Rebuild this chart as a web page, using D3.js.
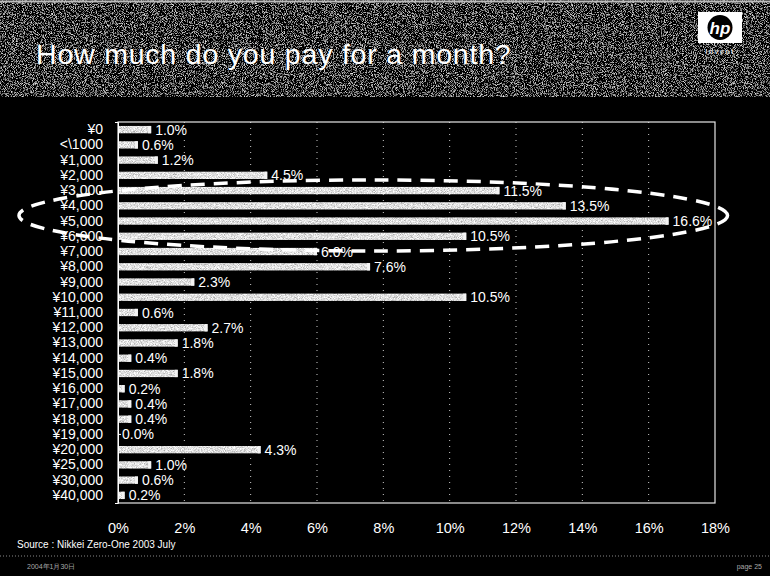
<!DOCTYPE html>
<html>
<head>
<meta charset="utf-8">
<script src="https://cdn.jsdelivr.net/npm/d3@7"></script>
<style>
  html, body { margin: 0; padding: 0; background: #000; }
  svg { display: block; }
  text { font-family: "Liberation Sans", Arial, sans-serif; }
</style>
</head>
<body>
<svg id="chart" width="770" height="576"></svg>
<script>
// Monthly spending buckets and share of respondents (%)
const categories = ["¥0", "<\\1000", "¥1,000", "¥2,000", "¥3,000", "¥4,000", "¥5,000",
  "¥6,000", "¥7,000", "¥8,000", "¥9,000", "¥10,000", "¥11,000", "¥12,000", "¥13,000",
  "¥14,000", "¥15,000", "¥16,000", "¥17,000", "¥18,000", "¥19,000", "¥20,000",
  "¥25,000", "¥30,000", "¥40,000"];
const shares = [1.0, 0.6, 1.2, 4.5, 11.5, 13.5, 16.6, 10.5, 6.0, 7.6, 2.3, 10.5, 0.6,
  2.7, 1.8, 0.4, 1.8, 0.2, 0.4, 0.4, 0.0, 4.3, 1.0, 0.6, 0.2];
const xTicks = [0, 2, 4, 6, 8, 10, 12, 14, 16, 18];
const highlighted = ["¥3,000", "¥4,000", "¥5,000", "¥6,000"];

const titleText = "How much do you pay for a month?";
const sourceText = "Source : Nikkei Zero-One 2003 July";
const dateText = "2004年1月30日";
const pageText = "page 25";

const svg = d3.select("#chart");
const W = 770, H = 576;
const plot = { left: 118, right: 715, top: 122, bottom: 503 };
const FONT = "\"Liberation Sans\", Arial, sans-serif";

const defs = svg.append("defs");
// speckled dark texture for the header band
const grain = defs.append("filter").attr("id", "grain")
  .attr("x", 0).attr("y", 0).attr("width", "100%").attr("height", "100%");
grain.append("feTurbulence").attr("type", "fractalNoise")
  .attr("baseFrequency", 1.1).attr("numOctaves", 2).attr("seed", 4).attr("result", "n");
grain.append("feColorMatrix").attr("in", "n").attr("type", "matrix")
  .attr("values", "2.4 0 0 0 -1.2  2.4 0 0 0 -1.2  2.4 0 0 0 -1.2  0 0 0 0 1");

// dithered light-grey fill for bars
const barGrain = defs.append("filter").attr("id", "barGrain");
barGrain.append("feTurbulence").attr("type", "fractalNoise")
  .attr("baseFrequency", 1.3).attr("numOctaves", 1).attr("seed", 7).attr("result", "n");
barGrain.append("feColorMatrix").attr("in", "n").attr("type", "matrix")
  .attr("values", "1.4 0 0 0 0.05  1.4 0 0 0 0.05  1.4 0 0 0 0.05  0 0 0 0 1")
  .attr("result", "g");
barGrain.append("feComposite").attr("in", "g").attr("in2", "SourceGraphic").attr("operator", "in");

// background
svg.append("rect").attr("width", W).attr("height", H).attr("fill", "#000");

// header band
svg.append("rect").attr("x", 0).attr("y", 0).attr("width", W).attr("height", 97)
  .attr("fill", "#444").attr("filter", "url(#grain)");
svg.append("line").attr("x1", 0).attr("x2", W).attr("y1", 1.5).attr("y2", 1.5)
  .attr("stroke", "#bbb").attr("stroke-width", 2);
svg.append("line").attr("x1", 0).attr("x2", W).attr("y1", 93).attr("y2", 93)
  .attr("stroke", "#666").attr("stroke-width", 1).attr("stroke-dasharray", "1,3");

svg.append("text").attr("x", 36).attr("y", 64)
  .attr("fill", "#fff").attr("font-size", 28.5).attr("letter-spacing", 0.8)
  .text(titleText);

// logo
const logo = svg.append("g").attr("transform", "translate(698,12)");
logo.append("rect").attr("width", 44).attr("height", 31).attr("fill", "#fff");
logo.append("circle").attr("cx", 22).attr("cy", 15.5).attr("r", 12.5).attr("fill", "#000");
logo.append("text").attr("x", 22).attr("y", 21.5).attr("text-anchor", "middle")
  .attr("fill", "#fff").attr("font-size", 17).attr("font-weight", "bold")
  .attr("font-style", "italic").text("hp");
logo.append("text").attr("x", 22).attr("y", 42).attr("text-anchor", "middle")
  .attr("fill", "#ddd").attr("font-size", 7).attr("font-weight", "bold")
  .attr("letter-spacing", 1.5).text("invent");

// scales
const x = d3.scaleLinear().domain([0, 18]).range([plot.left, plot.right]);
const y = d3.scaleBand().domain(categories).range([plot.top, plot.bottom])
  .paddingInner(0.52).paddingOuter(0.26);

// dotted gridlines
svg.append("g").selectAll("line").data(xTicks.filter(t => t > 0 && t < 18)).join("line")
  .attr("x1", d => x(d)).attr("x2", d => x(d))
  .attr("y1", plot.top).attr("y2", plot.bottom)
  .attr("stroke", "#ccc").attr("stroke-width", 1).attr("stroke-dasharray", "1,5");

// frame
svg.append("rect").attr("x", plot.left).attr("y", plot.top)
  .attr("width", plot.right - plot.left).attr("height", plot.bottom - plot.top)
  .attr("fill", "none").attr("stroke", "#e6e6e6").attr("stroke-width", 1.2);

// bars
const bars = svg.append("g");
bars.selectAll("rect.bar").data(shares).join("rect").attr("class", "bar")
  .attr("x", x(0)).attr("y", (d, i) => y(categories[i]))
  .attr("width", d => x(d) - x(0)).attr("height", y.bandwidth())
  .attr("fill", "#ccc").attr("filter", "url(#barGrain)");
bars.selectAll("rect.cap").data(shares).join("rect").attr("class", "cap")
  .attr("x", d => Math.max(x(0), x(d) - 3)).attr("y", (d, i) => y(categories[i]))
  .attr("width", d => Math.min(3, x(d) - x(0))).attr("height", y.bandwidth())
  .attr("fill", "#f4f4f4");

// value labels
svg.append("g").selectAll("text").data(shares).join("text")
  .attr("x", d => x(d) + 4)
  .attr("y", (d, i) => y(categories[i]) + y.bandwidth() / 2 + 5)
  .attr("fill", "#fff").attr("font-size", 14)
  .text(d => d.toFixed(1) + "%");

// category axis
const yAxis = svg.append("g").attr("transform", `translate(${plot.left},0)`)
  .call(d3.axisLeft(y).tickSize(3).tickPadding(12));
yAxis.select(".domain").attr("stroke", "#fff");
yAxis.selectAll(".tick line").attr("stroke", "#fff").attr("transform", "translate(3,0)");
yAxis.selectAll(".tick text").attr("fill", "#fff").attr("font-size", 14)
  .attr("font-family", FONT);

// value axis labels
const xAxis = svg.append("g").attr("transform", `translate(0,${plot.bottom})`)
  .call(d3.axisBottom(x).tickValues(xTicks).tickSize(0).tickPadding(20).tickFormat(d => d + "%"));
xAxis.select(".domain").remove();
xAxis.selectAll(".tick text").attr("fill", "#fff").attr("font-size", 14.5)
  .attr("font-family", FONT);

// highlight ellipse around the most common buckets
const hTop = y(highlighted[0]);
const hBot = y(highlighted[highlighted.length - 1]) + y.bandwidth();
const cy = (hTop + hBot) / 2 + 2;
const ex0 = 19, ex1 = x(16.6) + 59;
svg.append("ellipse")
  .attr("cx", (ex0 + ex1) / 2).attr("cy", cy)
  .attr("rx", (ex1 - ex0) / 2).attr("ry", (hBot - hTop) / 2 + 9)
  .attr("fill", "none").attr("stroke", "#fff").attr("stroke-width", 3.5)
  .attr("stroke-dasharray", "14,9");

// source note
svg.append("text").attr("x", 17).attr("y", 548).attr("fill", "#fff")
  .attr("font-size", 10).text(sourceText);

// footer
svg.append("line").attr("x1", 0).attr("x2", W).attr("y1", 556).attr("y2", 556)
  .attr("stroke", "#888").attr("stroke-dasharray", "1,2");
svg.append("text").attr("x", 27).attr("y", 569).attr("fill", "#aaa")
  .attr("font-size", 7).attr("font-family", "\"Noto Sans CJK JP\", sans-serif").text(dateText);
svg.append("text").attr("x", 762).attr("y", 569).attr("text-anchor", "end").attr("fill", "#aaa")
  .attr("font-size", 7).text(pageText);
</script>
</body>
</html>
